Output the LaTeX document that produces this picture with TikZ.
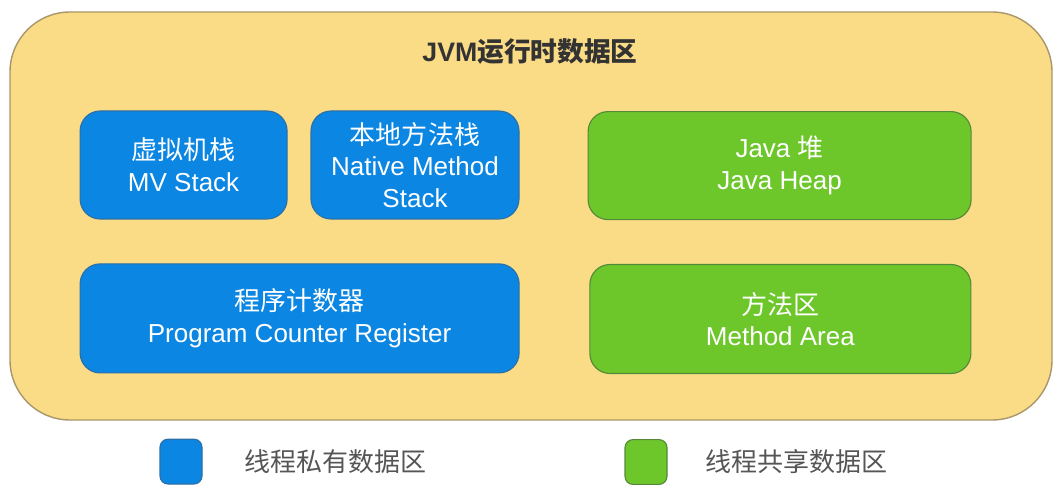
\documentclass[tikz,border=0pt]{standalone}
\usepackage{fontspec}
\setmainfont{Liberation Sans}
\newfontfamily\cjkfont{Noto Sans CJK SC}
\newcommand{\zh}[1]{{\cjkfont #1}}
\usetikzlibrary{positioning}

\definecolor{areafill}{HTML}{FBDC86}
\definecolor{areaedge}{HTML}{A8976A}
\definecolor{privfill}{HTML}{0B86E2}
\definecolor{privedge}{HTML}{2A6FA8}
\definecolor{sharefill}{HTML}{6DC72B}
\definecolor{shareedge}{HTML}{55893A}
\definecolor{titletext}{HTML}{333333}
\definecolor{legendtext}{HTML}{555555}

\tikzset{
	regionbox/.style={rounded corners=0.5cm,inner sep=0pt,align=center,text=white,
		line width=0.8pt,font=\fontsize{18.5}{22.5}\selectfont},
	private/.style={regionbox,fill=privfill,draw=privedge},
	shared/.style={regionbox,fill=sharefill,draw=shareedge},
	legendbox/.style={rounded corners=0.2cm,minimum width=1.05cm,minimum height=1.12cm,inner sep=0pt,line width=0.8pt},
	legendlabel/.style={text=legendtext,font=\fontsize{18.5}{22.5}\selectfont,inner sep=0pt}
}

\begin{document}
\begin{tikzpicture}
		
		\useasboundingbox[fill=white] (0,0) rectangle (26.6,-12.275);
		
		% runtime data area
		\draw[fill=areafill,draw=areaedge,line width=1pt,rounded corners=1.5cm] (0.25,-0.3) rectangle (26.3,-10.5);
		\node[text=titletext,font=\fontsize{19}{23}\selectfont\bfseries] (title) at (13.25,-1.3) {JVM\zh{运行时数据区}};
		
		\node[private,minimum width=5.175cm,minimum height=2.7cm] (vmstack) at (4.59,-4.125) {\zh{虚拟机栈}\\MV Stack};
		\node[private,minimum width=5.2cm,minimum height=2.7cm] (nativestack) at (10.375,-4.125) {\zh{本地方法栈}\\Native Method\\Stack};
		\node[shared,minimum width=9.575cm,minimum height=2.7cm] (heap) at (19.49,-4.14) {Java \zh{堆}\\Java Heap};
		
		\node[private,minimum width=10.975cm,minimum height=2.725cm] (pcreg) at (7.49,-7.96) {\zh{程序计数器}\\Program Counter Register};
		\node[shared,minimum width=9.525cm,minimum height=2.725cm] (methodarea) at (19.51,-7.975) {\zh{方法区}\\Method Area};
		
		% legend
		\node[legendbox,fill=privfill,draw=privedge] (legpriv) at (4.525,-11.54) {};
		\node[legendlabel,right=1.05cm of legpriv] {\zh{线程私有数据区}};
		\node[legendbox,fill=sharefill,draw=shareedge] (legshare) at (16.15,-11.55) {};
		\node[legendlabel,right=0.95cm of legshare] {\zh{线程共享数据区}};
		
	\end{tikzpicture}
\end{document}
